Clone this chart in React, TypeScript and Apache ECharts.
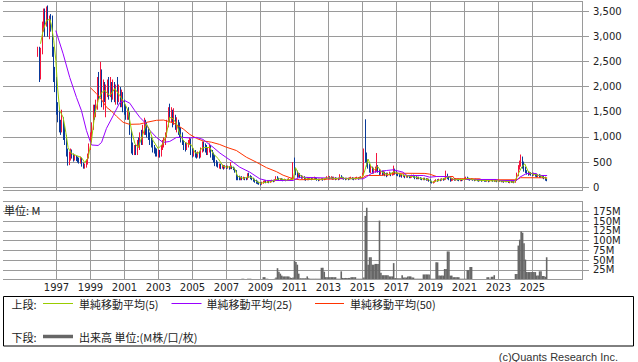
import { useEffect, useRef } from "react";
import * as echarts from "echarts";

// x-axis (odd years) labels
const yearLabels = [1997, 1999, 2001, 2003, 2005, 2007, 2009, 2011, 2013, 2015, 2017, 2019, 2021, 2023, 2025];

// monthly candles: [month, open, close, low, high]
const priceCandles: [string, number, number, number, number][] = [
  ["1995-12", 2700, 2750, 2600, 2800],
  ["1996-01", 2750, 2300, 2100, 2800], ["1996-02", 2300, 2700, 2150, 2780], ["1996-03", 2700, 3200, 2650, 3300],
  ["1996-04", 3200, 3500, 3100, 3560], ["1996-05", 3500, 3300, 3000, 3560], ["1996-06", 3300, 3450, 3200, 3600],
  ["1996-07", 3450, 3200, 3000, 3620], ["1996-08", 3200, 3350, 2950, 3420], ["1996-09", 3350, 3250, 3100, 3450],
  ["1996-10", 3250, 2750, 2600, 3420], ["1996-11", 2750, 2300, 2100, 2800], ["1996-12", 2300, 2150, 1900, 2400],
  ["1997-01", 2150, 1600, 1450, 2200], ["1997-02", 1600, 1450, 1300, 1700], ["1997-03", 1450, 1250, 1100, 1550],
  ["1997-04", 1250, 1200, 1050, 1350], ["1997-05", 1200, 1350, 1100, 1550], ["1997-06", 1350, 1100, 950, 1400],
  ["1997-07", 1100, 1000, 850, 1250], ["1997-08", 1000, 700, 620, 1050], ["1997-09", 700, 560, 440, 780],
  ["1997-10", 560, 600, 450, 720], ["1997-11", 600, 700, 540, 780], ["1997-12", 700, 620, 580, 760],
  ["1998-01", 620, 560, 520, 680], ["1998-02", 560, 600, 540, 650], ["1998-03", 600, 580, 530, 640],
  ["1998-04", 580, 560, 500, 620], ["1998-05", 560, 520, 480, 600], ["1998-06", 520, 560, 480, 620],
  ["1998-07", 560, 480, 420, 600], ["1998-08", 480, 420, 380, 500], ["1998-09", 420, 430, 380, 480],
  ["1998-10", 430, 500, 400, 560], ["1998-11", 500, 620, 460, 680], ["1998-12", 620, 800, 580, 880],
  ["1999-01", 800, 950, 750, 1100], ["1999-02", 950, 1200, 900, 1300], ["1999-03", 1200, 1500, 1150, 1650],
  ["1999-04", 1500, 1450, 1350, 1650], ["1999-05", 1450, 1650, 1400, 1750], ["1999-06", 1650, 2150, 1550, 2200],
  ["1999-07", 2150, 1850, 1750, 2300], ["1999-08", 1850, 2300, 1800, 2500], ["1999-09", 2300, 1700, 1600, 2350],
  ["1999-10", 1700, 2000, 1550, 2150], ["1999-11", 2000, 1800, 1700, 2100], ["1999-12", 1800, 1900, 1400, 2050],
  ["2000-01", 1900, 2050, 1800, 2150], ["2000-02", 2050, 1850, 1750, 2200], ["2000-03", 1850, 2050, 1800, 2200],
  ["2000-04", 2050, 1800, 1700, 2100], ["2000-05", 1800, 2000, 1750, 2150], ["2000-06", 2000, 1850, 1700, 2100],
  ["2000-07", 1850, 1900, 1650, 2050], ["2000-08", 1900, 1800, 1650, 2200], ["2000-09", 1800, 1950, 1700, 2050],
  ["2000-10", 1950, 1750, 1600, 2000], ["2000-11", 1750, 1850, 1600, 1950], ["2000-12", 1850, 1650, 1500, 1900],
  ["2001-01", 1650, 1550, 1450, 1750], ["2001-02", 1550, 1400, 1350, 1650], ["2001-03", 1400, 1450, 1350, 1550],
  ["2001-04", 1450, 1380, 1350, 1600], ["2001-05", 1380, 1100, 1050, 1500], ["2001-06", 1100, 750, 680, 1150],
  ["2001-07", 750, 700, 650, 900], ["2001-08", 700, 800, 650, 850], ["2001-09", 800, 700, 650, 850],
  ["2001-10", 700, 900, 650, 950], ["2001-11", 900, 850, 800, 1000], ["2001-12", 850, 1000, 750, 1100],
  ["2002-01", 1000, 900, 850, 1150], ["2002-02", 900, 1100, 850, 1250], ["2002-03", 1100, 1300, 1050, 1390],
  ["2002-04", 1300, 1200, 1050, 1350], ["2002-05", 1200, 1100, 1000, 1300], ["2002-06", 1100, 1050, 950, 1200],
  ["2002-07", 1050, 900, 850, 1100], ["2002-08", 900, 850, 800, 1000], ["2002-09", 850, 750, 700, 950],
  ["2002-10", 750, 720, 680, 850], ["2002-11", 720, 700, 620, 800], ["2002-12", 700, 650, 620, 780],
  ["2003-01", 650, 700, 600, 760], ["2003-02", 700, 650, 600, 750], ["2003-03", 650, 800, 620, 850],
  ["2003-04", 800, 850, 750, 950], ["2003-05", 850, 900, 800, 1000], ["2003-06", 900, 1050, 850, 1100],
  ["2003-07", 1050, 1250, 1000, 1350], ["2003-08", 1250, 1500, 1200, 1600], ["2003-09", 1500, 1400, 1300, 1670],
  ["2003-10", 1400, 1500, 1300, 1600], ["2003-11", 1500, 1300, 1200, 1550], ["2003-12", 1300, 1400, 1250, 1580],
  ["2004-01", 1400, 1250, 1150, 1450], ["2004-02", 1250, 1300, 1100, 1400], ["2004-03", 1300, 1150, 1050, 1350],
  ["2004-04", 1150, 1100, 1000, 1300], ["2004-05", 1100, 1000, 900, 1200], ["2004-06", 1000, 920, 850, 1100],
  ["2004-07", 920, 850, 750, 950], ["2004-08", 850, 780, 720, 900], ["2004-09", 780, 850, 750, 900],
  ["2004-10", 850, 900, 800, 950], ["2004-11", 900, 950, 850, 1000], ["2004-12", 950, 700, 650, 980],
  ["2005-01", 700, 650, 600, 800], ["2005-02", 650, 720, 620, 780], ["2005-03", 720, 650, 600, 750],
  ["2005-04", 650, 630, 580, 700], ["2005-05", 630, 680, 600, 720], ["2005-06", 680, 620, 580, 720],
  ["2005-07", 620, 720, 600, 800], ["2005-08", 720, 850, 700, 920], ["2005-09", 850, 800, 720, 920],
  ["2005-10", 800, 780, 700, 880], ["2005-11", 780, 700, 650, 850], ["2005-12", 700, 750, 650, 800],
  ["2006-01", 750, 820, 700, 880], ["2006-02", 820, 700, 600, 850], ["2006-03", 700, 650, 550, 750],
  ["2006-04", 650, 560, 500, 700], ["2006-05", 560, 480, 430, 650], ["2006-06", 480, 460, 420, 550],
  ["2006-07", 460, 430, 400, 520], ["2006-08", 430, 450, 380, 480], ["2006-09", 450, 420, 370, 480],
  ["2006-10", 420, 425, 380, 460], ["2006-11", 420, 400, 360, 450], ["2006-12", 400, 420, 380, 450],
  ["2007-01", 420, 400, 370, 440], ["2007-02", 400, 410, 380, 440], ["2007-03", 410, 390, 360, 430],
  ["2007-04", 390, 420, 370, 510], ["2007-05", 420, 400, 370, 440], ["2007-06", 400, 380, 350, 420],
  ["2007-07", 380, 330, 300, 400], ["2007-08", 330, 220, 150, 350], ["2007-09", 220, 200, 150, 250],
  ["2007-10", 200, 180, 150, 240], ["2007-11", 180, 200, 150, 220], ["2007-12", 200, 180, 150, 230],
  ["2008-01", 180, 190, 160, 220], ["2008-02", 190, 180, 150, 210], ["2008-03", 180, 170, 150, 200],
  ["2008-04", 170, 250, 160, 290], ["2008-05", 250, 220, 200, 300], ["2008-06", 220, 200, 170, 250],
  ["2008-07", 200, 180, 150, 230], ["2008-08", 180, 160, 120, 200], ["2008-09", 160, 130, 100, 180],
  ["2008-10", 130, 110, 80, 160], ["2008-11", 110, 100, 70, 140], ["2008-12", 100, 90, 60, 120],
  ["2009-01", 90, 80, 45, 110], ["2009-02", 80, 100, 60, 120], ["2009-03", 100, 110, 80, 140],
  ["2009-04", 110, 130, 100, 150], ["2009-05", 130, 110, 90, 150], ["2009-06", 110, 120, 95, 140],
  ["2009-07", 120, 110, 90, 140], ["2009-08", 110, 120, 100, 140], ["2009-09", 120, 140, 110, 160],
  ["2009-10", 140, 130, 110, 160], ["2009-11", 130, 150, 120, 170], ["2009-12", 150, 200, 140, 230],
  ["2010-01", 200, 180, 150, 230], ["2010-02", 180, 160, 140, 200], ["2010-03", 160, 170, 140, 190],
  ["2010-04", 170, 160, 140, 190], ["2010-05", 160, 150, 130, 180], ["2010-06", 150, 160, 140, 180],
  ["2010-07", 160, 150, 130, 170], ["2010-08", 150, 160, 140, 180], ["2010-09", 160, 170, 150, 190],
  ["2010-10", 170, 160, 140, 180], ["2010-11", 160, 170, 150, 200], ["2010-12", 170, 450, 160, 510],
  ["2011-01", 450, 350, 300, 600], ["2011-02", 350, 300, 250, 380], ["2011-03", 300, 250, 200, 340],
  ["2011-04", 250, 270, 210, 300], ["2011-05", 270, 220, 190, 290], ["2011-06", 220, 200, 180, 250],
  ["2011-07", 200, 210, 180, 240], ["2011-08", 210, 180, 150, 230], ["2011-09", 180, 170, 140, 200],
  ["2011-10", 170, 180, 150, 210], ["2011-11", 180, 170, 150, 200], ["2011-12", 170, 180, 160, 200],
  ["2012-01", 180, 170, 150, 200], ["2012-02", 170, 180, 160, 210], ["2012-03", 180, 190, 170, 220],
  ["2012-04", 190, 180, 160, 210], ["2012-05", 180, 160, 140, 200], ["2012-06", 160, 150, 130, 180],
  ["2012-07", 150, 160, 140, 180], ["2012-08", 160, 170, 150, 190], ["2012-09", 170, 160, 140, 190],
  ["2012-10", 160, 170, 150, 190], ["2012-11", 170, 180, 160, 200], ["2012-12", 180, 200, 170, 230],
  ["2013-01", 200, 210, 180, 240], ["2013-02", 210, 190, 170, 230], ["2013-03", 190, 200, 170, 230],
  ["2013-04", 200, 180, 160, 220], ["2013-05", 180, 190, 160, 220], ["2013-06", 190, 170, 150, 210],
  ["2013-07", 170, 180, 160, 200], ["2013-08", 180, 170, 150, 200], ["2013-09", 170, 230, 160, 270],
  ["2013-10", 230, 200, 180, 250], ["2013-11", 200, 190, 170, 220], ["2013-12", 190, 180, 160, 210],
  ["2014-01", 180, 170, 150, 200], ["2014-02", 170, 180, 160, 200], ["2014-03", 180, 170, 150, 200],
  ["2014-04", 170, 180, 160, 210], ["2014-05", 180, 190, 170, 220], ["2014-06", 190, 180, 160, 210],
  ["2014-07", 180, 170, 150, 200], ["2014-08", 170, 180, 160, 210], ["2014-09", 180, 190, 170, 220],
  ["2014-10", 190, 180, 160, 210], ["2014-11", 180, 190, 170, 220], ["2014-12", 190, 200, 180, 230],
  ["2015-01", 200, 250, 190, 300], ["2015-02", 250, 750, 240, 780], ["2015-03", 800, 600, 500, 1360],
  ["2015-04", 600, 500, 420, 700], ["2015-05", 500, 450, 380, 560], ["2015-06", 450, 350, 300, 480],
  ["2015-07", 350, 400, 290, 450], ["2015-08", 400, 330, 280, 420], ["2015-09", 330, 350, 280, 400],
  ["2015-10", 350, 380, 300, 420], ["2015-11", 380, 400, 320, 690], ["2015-12", 400, 340, 300, 450],
  ["2016-01", 340, 300, 250, 370], ["2016-02", 300, 320, 260, 360], ["2016-03", 320, 280, 240, 340],
  ["2016-04", 280, 300, 250, 340], ["2016-05", 300, 270, 230, 320], ["2016-06", 270, 250, 210, 300],
  ["2016-07", 250, 270, 230, 300], ["2016-08", 270, 280, 250, 320], ["2016-09", 280, 260, 230, 300],
  ["2016-10", 260, 280, 240, 310], ["2016-11", 280, 350, 250, 440], ["2016-12", 350, 300, 260, 380],
  ["2017-01", 300, 280, 240, 330], ["2017-02", 280, 260, 230, 300], ["2017-03", 260, 240, 210, 280],
  ["2017-04", 240, 250, 220, 280], ["2017-05", 250, 230, 200, 270], ["2017-06", 230, 240, 210, 270],
  ["2017-07", 240, 220, 190, 260], ["2017-08", 220, 230, 200, 260], ["2017-09", 230, 220, 200, 250],
  ["2017-10", 220, 210, 190, 240], ["2017-11", 210, 220, 190, 250], ["2017-12", 220, 230, 200, 260],
  ["2018-01", 230, 220, 200, 260], ["2018-02", 220, 200, 170, 240], ["2018-03", 200, 190, 170, 230],
  ["2018-04", 190, 200, 170, 220], ["2018-05", 200, 190, 170, 220], ["2018-06", 190, 180, 160, 210],
  ["2018-07", 180, 170, 150, 200], ["2018-08", 170, 180, 150, 200], ["2018-09", 180, 170, 150, 200],
  ["2018-10", 170, 160, 140, 190], ["2018-11", 160, 170, 140, 190], ["2018-12", 170, 150, 120, 180],
  ["2019-01", 150, 120, 100, 170], ["2019-02", 120, 100, 85, 140], ["2019-03", 100, 110, 85, 130],
  ["2019-04", 110, 130, 100, 150], ["2019-05", 130, 150, 120, 170], ["2019-06", 150, 140, 120, 170],
  ["2019-07", 140, 160, 130, 180], ["2019-08", 160, 150, 130, 180], ["2019-09", 150, 170, 140, 190],
  ["2019-10", 170, 160, 140, 190], ["2019-11", 160, 170, 150, 200], ["2019-12", 170, 250, 160, 340],
  ["2020-01", 250, 200, 170, 280], ["2020-02", 200, 180, 150, 220], ["2020-03", 180, 150, 120, 200],
  ["2020-04", 150, 160, 130, 180], ["2020-05", 160, 170, 140, 190], ["2020-06", 170, 160, 140, 190],
  ["2020-07", 160, 170, 140, 190], ["2020-08", 170, 160, 140, 180], ["2020-09", 160, 150, 130, 180],
  ["2020-10", 150, 160, 130, 180], ["2020-11", 160, 150, 130, 170], ["2020-12", 150, 160, 140, 180],
  ["2021-01", 160, 170, 150, 200], ["2021-02", 170, 190, 160, 220], ["2021-03", 190, 180, 160, 220],
  ["2021-04", 180, 170, 150, 200], ["2021-05", 170, 160, 140, 190], ["2021-06", 160, 170, 150, 190],
  ["2021-07", 170, 160, 140, 180], ["2021-08", 160, 150, 130, 170], ["2021-09", 150, 160, 140, 180],
  ["2021-10", 160, 150, 130, 170], ["2021-11", 150, 140, 120, 160], ["2021-12", 140, 150, 130, 160],
  ["2022-01", 150, 140, 120, 160], ["2022-02", 140, 150, 130, 160], ["2022-03", 150, 140, 120, 160],
  ["2022-04", 140, 130, 120, 150], ["2022-05", 130, 140, 120, 150], ["2022-06", 140, 130, 110, 150],
  ["2022-07", 130, 140, 120, 150], ["2022-08", 140, 150, 130, 160], ["2022-09", 150, 140, 120, 160],
  ["2022-10", 140, 130, 120, 150], ["2022-11", 130, 140, 120, 150], ["2022-12", 140, 130, 110, 150],
  ["2023-01", 130, 140, 120, 150], ["2023-02", 140, 130, 120, 150], ["2023-03", 130, 120, 110, 140],
  ["2023-04", 120, 130, 110, 140], ["2023-05", 130, 120, 100, 140], ["2023-06", 120, 130, 110, 140],
  ["2023-07", 130, 120, 110, 140], ["2023-08", 120, 110, 95, 130], ["2023-09", 110, 120, 90, 130],
  ["2023-10", 120, 115, 100, 135], ["2023-11", 115, 120, 100, 135], ["2023-12", 120, 110, 90, 130],
  ["2024-01", 110, 150, 100, 180], ["2024-02", 150, 250, 140, 300], ["2024-03", 250, 380, 230, 450],
  ["2024-04", 380, 480, 360, 540], ["2024-05", 480, 600, 420, 660], ["2024-06", 600, 450, 380, 620],
  ["2024-07", 450, 380, 320, 520], ["2024-08", 380, 320, 290, 420], ["2024-09", 320, 300, 260, 350],
  ["2024-10", 300, 280, 240, 330], ["2024-11", 280, 290, 250, 320], ["2024-12", 290, 270, 240, 310],
  ["2025-01", 270, 260, 230, 300], ["2025-02", 260, 270, 240, 300], ["2025-03", 270, 250, 220, 290],
  ["2025-04", 250, 240, 210, 270], ["2025-05", 240, 250, 210, 270], ["2025-06", 250, 240, 200, 270],
  ["2025-07", 240, 230, 200, 260], ["2025-08", 230, 220, 190, 250], ["2025-09", 220, 200, 170, 240],
  ["2025-10", 200, 170, 140, 220], ["2025-11", 170, 160, 130, 190],
];

// moving averages: [year, value]
const ma5: [number, number][] = [
  [1996.06, 2860], [1996.21, 3120], [1996.41, 3320], [1996.61, 3350], [1996.7, 3230], [1996.84, 2920],
  [1996.96, 2530], [1997.06, 2000], [1997.19, 1530], [1997.39, 1400], [1997.55, 1100], [1997.68, 800],
  [1997.88, 680], [1998.18, 640], [1998.47, 600], [1998.66, 500], [1998.86, 600], [1999.06, 940],
  [1999.25, 1470], [1999.45, 1730], [1999.65, 1890], [1999.84, 1930], [2000.14, 1830], [2000.43, 1970],
  [2000.72, 1830], [2001.02, 1670], [2001.21, 1530], [2001.41, 1140], [2001.61, 880], [2001.8, 800],
  [2002.09, 1070], [2002.29, 1270], [2002.49, 1140], [2002.68, 940], [2002.98, 780], [2003.27, 880],
  [2003.47, 1070], [2003.66, 1400], [2003.86, 1370], [2004.06, 1270], [2004.25, 1070], [2004.45, 940],
  [2004.65, 880], [2004.94, 850], [2005.14, 700], [2005.33, 680], [2005.53, 780], [2005.72, 800],
  [2006.02, 800], [2006.21, 680], [2006.51, 580], [2006.8, 430], [2007.0, 410], [2007.3, 420],
  [2007.5, 370], [2007.65, 230], [2008.0, 185], [2008.3, 220], [2008.5, 200], [2008.8, 120],
  [2009.0, 90], [2009.3, 110], [2009.6, 120], [2009.9, 160], [2010.1, 180], [2010.5, 155],
  [2010.92, 170], [2011.06, 400], [2011.2, 300], [2011.4, 230], [2011.7, 180], [2012.0, 175],
  [2012.5, 160], [2013.0, 200], [2013.5, 180], [2013.75, 210], [2014.0, 180], [2014.5, 180],
  [2014.95, 195], [2015.1, 300], [2015.33, 570], [2015.5, 420], [2015.7, 360], [2015.9, 420],
  [2016.1, 320], [2016.5, 260], [2016.9, 320], [2017.1, 280], [2017.5, 240], [2018.0, 220],
  [2018.5, 180], [2018.9, 160], [2019.1, 110], [2019.5, 150], [2019.9, 190], [2020.05, 220],
  [2020.4, 160], [2021.0, 165], [2021.2, 185], [2021.6, 155], [2022.0, 145], [2022.5, 140],
  [2023.0, 135], [2023.5, 125], [2023.95, 110], [2024.2, 300], [2024.38, 420], [2024.55, 474],
  [2024.75, 320], [2025.0, 270], [2025.4, 245], [2025.86, 180],
];
const ma25: [number, number][] = [
  [1996.96, 3120], [1997.39, 2660], [1997.78, 2190], [1998.18, 1790], [1998.47, 1530], [1998.76, 1140],
  [1998.96, 940], [1999.06, 850], [1999.45, 840], [1999.65, 900], [1999.94, 1180], [2000.33, 1430],
  [2000.72, 1690], [2001.02, 1730], [2001.31, 1680], [2001.61, 1530], [2001.9, 1400], [2002.19, 1300],
  [2002.49, 1140], [2002.88, 1000], [2003.27, 900], [2003.66, 920], [2004.06, 1000], [2004.45, 1000],
  [2004.84, 990], [2005.24, 1000], [2005.62, 960], [2005.82, 905], [2006.21, 806], [2006.61, 690],
  [2007.39, 508], [2007.78, 409], [2008.37, 310], [2008.96, 178], [2009.35, 145], [2010.92, 145],
  [2011.31, 210], [2013.27, 190], [2015.04, 178], [2015.3, 230], [2015.63, 310], [2016.41, 343],
  [2016.8, 357], [2017.39, 310], [2017.6, 244], [2018.6, 244], [2018.96, 210], [2019.35, 224],
  [2020.14, 224], [2020.3, 165], [2022.88, 165], [2023.0, 145], [2024.06, 145], [2024.25, 210],
  [2024.65, 284], [2025.24, 284], [2025.3, 244], [2025.86, 244],
];
const ma50: [number, number][] = [
  [1999.0, 1985], [1999.35, 1870], [1999.55, 1800], [1999.94, 1600], [2000.24, 1520], [2000.53, 1420],
  [2000.92, 1300], [2001.3, 1260], [2001.9, 1265], [2002.3, 1300], [2002.88, 1340], [2003.3, 1345],
  [2003.86, 1290], [2004.45, 1170], [2004.84, 1060], [2005.24, 980], [2005.62, 930], [2006.12, 905],
  [2006.6, 860], [2006.99, 806], [2007.58, 740], [2008.17, 607], [2008.76, 508], [2009.35, 400],
  [2009.94, 320], [2010.33, 250], [2010.92, 178], [2011.3, 160], [2013.3, 175], [2015.0, 198],
  [2015.24, 244], [2016.02, 244], [2016.6, 260], [2016.8, 290], [2018.67, 285], [2018.96, 270],
  [2019.35, 224], [2020.33, 224], [2020.4, 180], [2021.9, 178], [2022.0, 159], [2024.06, 159],
  [2024.3, 200], [2025.86, 198],
];

// monthly volume, millions: [month, value]
const volume: [string, number][] = [
  ["2007-12", 2], ["2008-01", 2], ["2008-04", 2], ["2008-05", 2], ["2008-06", 2],
  ["2009-03", 6], ["2009-04", 6], ["2009-05", 2], ["2009-06", 2], ["2009-07", 1], ["2009-08", 1],
  ["2009-09", 1], ["2009-10", 1], ["2009-11", 2], ["2009-12", 5],
  ["2010-01", 29], ["2010-02", 20], ["2010-03", 15], ["2010-04", 10], ["2010-05", 8], ["2010-06", 8],
  ["2010-07", 8], ["2010-08", 8], ["2010-09", 8], ["2010-10", 5], ["2010-11", 4], ["2010-12", 5],
  ["2011-01", 48], ["2011-02", 45], ["2011-03", 38], ["2011-04", 15], ["2011-05", 3], ["2011-06", 3],
  ["2011-07", 3], ["2011-08", 3], ["2011-09", 3], ["2011-10", 8], ["2011-11", 3], ["2011-12", 2],
  ["2012-01", 2], ["2012-02", 2], ["2012-03", 2], ["2012-04", 2], ["2012-05", 2], ["2012-06", 2],
  ["2012-07", 2], ["2012-08", 30], ["2012-09", 30], ["2012-10", 20], ["2012-11", 6], ["2012-12", 6],
  ["2013-01", 6], ["2013-02", 6], ["2013-03", 6], ["2013-04", 6], ["2013-05", 6], ["2013-06", 6],
  ["2013-07", 2], ["2013-08", 2], ["2013-09", 2], ["2013-10", 21], ["2013-11", 4], ["2013-12", 4],
  ["2014-01", 4], ["2014-02", 4], ["2014-03", 4], ["2014-04", 4], ["2014-05", 6], ["2014-06", 6],
  ["2014-07", 6], ["2014-08", 6], ["2014-09", 2], ["2014-10", 2], ["2014-11", 2], ["2014-12", 2],
  ["2015-01", 2], ["2015-02", 5], ["2015-03", 163], ["2015-04", 184], ["2015-05", 38], ["2015-06", 57],
  ["2015-07", 57], ["2015-08", 38], ["2015-09", 38], ["2015-10", 40], ["2015-11", 40], ["2015-12", 40],
  ["2016-01", 151], ["2016-02", 17], ["2016-03", 11], ["2016-04", 11], ["2016-05", 11], ["2016-06", 11],
  ["2016-07", 11], ["2016-08", 8], ["2016-09", 8], ["2016-10", 8], ["2016-11", 42], ["2016-12", 4],
  ["2017-01", 3], ["2017-02", 3], ["2017-03", 3], ["2017-04", 3], ["2017-05", 11], ["2017-06", 5],
  ["2017-07", 5], ["2017-08", 5], ["2017-09", 8], ["2017-10", 8], ["2017-11", 8], ["2017-12", 5],
  ["2018-01", 5], ["2018-02", 2], ["2018-03", 2], ["2018-04", 2], ["2018-05", 2], ["2018-06", 2],
  ["2018-07", 2], ["2018-08", 13], ["2018-09", 13], ["2018-10", 13], ["2018-11", 13], ["2018-12", 13],
  ["2019-01", 2], ["2019-02", 2], ["2019-03", 2], ["2019-04", 2], ["2019-05", 44], ["2019-06", 44],
  ["2019-07", 10], ["2019-08", 10], ["2019-09", 10], ["2019-10", 10], ["2019-11", 27], ["2019-12", 27],
  ["2020-01", 72], ["2020-02", 72], ["2020-03", 10], ["2020-04", 10], ["2020-05", 6], ["2020-06", 6],
  ["2020-07", 6], ["2020-08", 6], ["2020-09", 6], ["2020-10", 2], ["2020-11", 2], ["2020-12", 2],
  ["2021-01", 2], ["2021-02", 2], ["2021-03", 24], ["2021-04", 24], ["2021-05", 32], ["2021-06", 32],
  ["2021-07", 1], ["2021-08", 1], ["2021-09", 1], ["2021-10", 1], ["2021-11", 1], ["2021-12", 1],
  ["2022-01", 1], ["2022-02", 1], ["2022-03", 1], ["2022-04", 1], ["2022-05", 6], ["2022-06", 6],
  ["2022-07", 2], ["2022-08", 7], ["2022-09", 7], ["2022-10", 11], ["2022-11", 0.5], ["2022-12", 0.5],
  ["2023-03", 0.5], ["2023-06", 0.5], ["2023-09", 0.5], ["2023-12", 0.5],
  ["2024-01", 14], ["2024-02", 14], ["2024-03", 87], ["2024-04", 102], ["2024-05", 123], ["2024-06", 120],
  ["2024-07", 93], ["2024-08", 51], ["2024-09", 19], ["2024-10", 19], ["2024-11", 19], ["2024-12", 19],
  ["2025-01", 19], ["2025-02", 19], ["2025-03", 19], ["2025-04", 10], ["2025-05", 10], ["2025-06", 21],
  ["2025-07", 21], ["2025-08", 9], ["2025-09", 9], ["2025-10", 7], ["2025-11", 57],
];

const ym = (s: string) => {
  const [y, m] = s.split("-").map(Number);
  return y + (m - 1) / 12;
};

const GRID = "#9a9a9a";
const TEXT = "#222";
const UP = "#f5143c";
const DOWN = "#0a3a99";
const C5 = "#99cc00";
const C25 = "#9900ff";
const C50 = "#ff3300";
const VOL = "#666666";

const T0 = 1997 - 53.5 / 17;
const T1 = 1997 + 526.5 / 17;
const LEFT = 3;
const RIGHT = 638 - 583;
const AXIS_FONT = "DejaVu Sans";
const CJK = "'Noto Sans CJK JP', sans-serif";

export default function App() {
  const ref = useRef<HTMLDivElement>(null);
  useEffect(() => {
    if (!ref.current) return;
    const chart = echarts.init(ref.current, null, { renderer: "svg" });
    const hLine = (x1: number, x2: number, y: number, color = GRID, w = 1) => ({
      type: "line", silent: true, z: 10,
      shape: { x1, y1: y, x2, y2: y }, style: { stroke: color, lineWidth: w },
    });
    const vLine = (x: number, y1: number, y2: number) => ({
      type: "line", silent: true, z: 10,
      shape: { x1: x, y1, x2: x, y2 }, style: { stroke: GRID, lineWidth: 1 },
    });
    const txt = (text: string, x: number, y: number, font: string, align = "left", fill = TEXT) => ({
      type: "text", silent: true, z: 10,
      style: { text, x, y, font, fill, textAlign: align, textVerticalAlign: "middle" },
    });
    const option: any = {
      animation: false,
      backgroundColor: "#fff",
      grid: [
        { left: LEFT, right: RIGHT, top: 1.5, height: 189 },
        { left: LEFT, right: RIGHT, top: 11, height: 176.3 },
        { left: LEFT, right: RIGHT, top: 201.5, height: 78 },
      ],
      xAxis: [
        {
          gridIndex: 0, type: "value", min: T0, max: T1,
          axisLine: { show: false },
          axisTick: { show: false, customValues: yearLabels },
          axisLabel: { show: false },
          splitLine: { show: true, lineStyle: { color: GRID, width: 1 } },
        },
        { gridIndex: 1, type: "value", min: T0, max: T1, show: false },
        {
          gridIndex: 2, type: "value", min: T0, max: T1,
          axisLine: { show: false },
          axisTick: { show: false, customValues: yearLabels },
          axisLabel: {
            show: true, customValues: yearLabels, formatter: (v: number) => String(Math.round(v)),
            fontFamily: AXIS_FONT, fontSize: 10, color: TEXT, margin: 3,
          },
          splitLine: { show: true, lineStyle: { color: GRID, width: 1 } },
        },
      ],
      yAxis: [
        { gridIndex: 0, type: "value", min: -54, max: 3699, show: false },
        {
          gridIndex: 1, type: "value", min: 0, max: 3500, interval: 500, position: "right",
          axisLine: { show: false },
          axisTick: { show: true, length: 6, lineStyle: { color: GRID } },
          axisLabel: {
            margin: 10, fontFamily: AXIS_FONT, fontSize: 10, color: TEXT,
            formatter: (v: number) => v.toLocaleString("en-US"),
          },
          splitLine: { show: true, lineStyle: { color: GRID, width: 1 } },
        },
        {
          gridIndex: 2, type: "value", min: 0, max: 200, interval: 25, position: "right",
          axisLine: { show: false },
          axisTick: { show: true, length: 6, lineStyle: { color: GRID } },
          axisLabel: {
            margin: 10, fontFamily: AXIS_FONT, fontSize: 10, color: TEXT,
            showMinLabel: false, showMaxLabel: false,
            formatter: (v: number) => (v === 0 || v === 200 ? "" : v + "M"),
          },
          splitLine: { show: true, lineStyle: { color: GRID, width: 1 } },
        },
      ],
      series: [
        {
          type: "candlestick", xAxisIndex: 0, yAxisIndex: 0,
          data: priceCandles.map(([d, o, c, l, h]) => [ym(d), o, c, l, h]),
          encode: { x: 0, y: [1, 2, 3, 4] },
          barWidth: 1.2,
          itemStyle: { color: UP, color0: DOWN, borderColor: UP, borderColor0: DOWN, borderWidth: 1 },
          z: 2,
        },
        {
          type: "line", xAxisIndex: 0, yAxisIndex: 0, data: ma50, showSymbol: false,
          lineStyle: { color: C50, width: 1 }, z: 3,
        },
        {
          type: "line", xAxisIndex: 0, yAxisIndex: 0, data: ma25, showSymbol: false,
          lineStyle: { color: C25, width: 1 }, z: 3,
        },
        {
          type: "line", xAxisIndex: 0, yAxisIndex: 0, data: ma5, showSymbol: false,
          lineStyle: { color: C5, width: 1 }, z: 4,
        },
        {
          type: "bar", xAxisIndex: 2, yAxisIndex: 2,
          data: volume.map(([d, v]) => [ym(d), v]),
          barWidth: 1.6, itemStyle: { color: VOL }, z: 2,
        },
      ],
      graphic: [
        hLine(LEFT, 583, 1.5),
        vLine(582.5, 1, 190.5),
        hLine(LEFT, 583, 190.5),
        hLine(LEFT, 583, 201.5),
        vLine(582.5, 201, 280),
        hLine(39, 583, 279.5),
        txt("単位: M", 4, 209.5, `11px ${CJK}`),
        {
          type: "rect", silent: true, z: 10,
          shape: { x: 3.5, y: 296.5, width: 630, height: 49.5 },
          style: { fill: "none", stroke: "#000", lineWidth: 1 },
        },
        txt("上段:", 11.5, 303.5, `11px ${CJK}`),
        hLine(43, 73, 303.5, C5, 1),
        txt("単純移動平均(5)", 79, 303.5, `11px ${CJK}`),
        hLine(171.5, 201.5, 303.5, C25, 1),
        txt("単純移動平均(25)", 206.5, 303.5, `11px ${CJK}`),
        hLine(315, 344, 303.5, C50, 1),
        txt("単純移動平均(50)", 350, 303.5, `11px ${CJK}`),
        txt("下段:", 11.5, 336.5, `11px ${CJK}`),
        hLine(43, 73, 336.5, VOL, 3.5),
        txt("出来高 単位:(M株/口/枚)", 79, 336.5, `11px ${CJK}`),
        txt("(c)Quants Research Inc.", 618, 356.5, "11px 'Liberation Sans', Arial, sans-serif", "right", "#333"),
      ],
    };
    chart.setOption(option);
    return () => chart.dispose();
  }, []);
  return (
    <div
      ref={ref}
      style={{ position: "fixed", left: 0, top: 0, width: 638, height: 362, background: "#fff" }}
    />
  );
}
